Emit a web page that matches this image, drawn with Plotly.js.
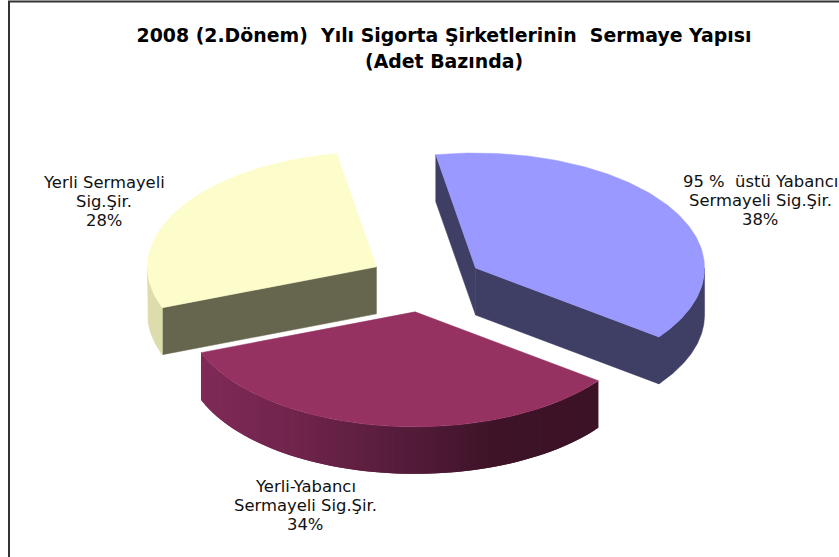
<!DOCTYPE html>
<html>
<head>
<meta charset="utf-8">
<script src="https://cdn.plot.ly/plotly-3.0.1.min.js"></script>
<style>html,body{margin:0;padding:0;background:#fff}#c{width:839px;height:557px}</style>
</head>
<body>
<div id="c"></div>
<script>
// Data
const categories = ["95 %\u00A0\u00A0üstü Yabancı Sermayeli Sig.Şir.", "Yerli-Yabancı Sermayeli Sig.Şir.", "Yerli Sermayeli Sig.Şir."];
const shares = [38, 34, 28];
const labelLines = [
  ["95 %\u00A0\u00A0üstü Yabancı", "Sermayeli Sig.Şir.", "38%"],
  ["Yerli-Yabancı", "Sermayeli Sig.Şir.", "34%"],
  ["Yerli Sermayeli", "Sig.Şir.", "28%"]
];
const titleLines = ["2008 (2.Dönem)\u00A0\u00A0Yılı Sigorta Şirketlerinin\u00A0\u00A0Sermaye Yapısı", "(Adet Bazında)"];

// Styles
const topColors = ["#9999ff", "#963262", "#fdfdcb"];
const edgeColors = ["#3f3f66", "#5a1c3b", "#66664f"];
const rimStops = [
  [[0, [63, 63, 102]], [1, [63, 63, 102]]],
  [[0, [128, 42, 88]], [0.25, [112, 36, 76]], [0.58, [80, 26, 54]], [0.75, [62, 19, 40]], [1, [60, 18, 38]]],
  [[0, [220, 220, 172]], [1, [220, 220, 172]]]
];
const labelAnchors = [[760, 181], [305, 486], [103.5, 182]];
const lineGap = 19;

// Pie projection
const geom = {cx: 426, cy: 282, a: 229, b: 115, depth: 47, explode: 57, first: -10};
const nudges = [[1, 1], [-3, 1.5], [0, -1]];
const rad = d => d * Math.PI / 180;
const total = shares.reduce((s, v) => s + v, 0);

function mix(stops, f) {
  for (let i = 1; i < stops.length; i++) {
    if (f <= stops[i][0]) {
      const k = (f - stops[i - 1][0]) / (stops[i][0] - stops[i - 1][0]);
      const c = stops[i - 1][1].map((v, j) => Math.round(v + (stops[i][1][j] - v) * k));
      return `rgb(${c.join(",")})`;
    }
  }
  return `rgb(${stops[stops.length - 1][1].join(",")})`;
}
function poly(xs, ys, color, lw) {
  return {
    type: "scatter", mode: "lines", x: xs, y: ys, fill: "toself", fillcolor: color,
    line: {color: color, width: lw === undefined ? 0.5 : lw}, hoverinfo: "skip", showlegend: false
  };
}

const traces = [];
const wedges = [];
let acc = geom.first;
shares.forEach((v, i) => {
  const t0 = acc, t1 = acc + v / total * 360;
  acc = t1;
  const mid = rad((t0 + t1) / 2);
  wedges.push({
    i, t0, t1,
    ax: geom.cx + nudges[i][0] + geom.explode * Math.sin(mid),
    ay: geom.cy + nudges[i][1] - geom.explode * Math.cos(mid) * geom.b / geom.a
  });
});

// painter's order: back wedges first, front wedge last
[2, 0, 1].forEach(i => {
  const w = wedges[i];
  const px = t => w.ax + geom.a * Math.sin(rad(t));
  const py = t => w.ay - geom.b * Math.cos(rad(t));
  const edge = t => poly(
    [w.ax, px(t), px(t), w.ax, w.ax],
    [w.ay, py(t), py(t) + geom.depth, w.ay + geom.depth, w.ay],
    edgeColors[i]
  );
  if (Math.sin(rad(w.t0)) < 0) traces.push(edge(w.t0));
  if (Math.sin(rad(w.t1)) > 0) traces.push(edge(w.t1));

  const from = Math.max(w.t0, 90), to = Math.min(w.t1, 270);
  if (to > from) {
    const band = (a, b, color, steps, lw) => {
      const xs = [], ys = [];
      for (let k = 0; k <= steps; k++) { const t = a + (b - a) * k / steps; xs.push(px(t)); ys.push(py(t)); }
      for (let k = steps; k >= 0; k--) { const t = a + (b - a) * k / steps; xs.push(px(t)); ys.push(py(t) + geom.depth); }
      xs.push(xs[0]); ys.push(ys[0]);
      traces.push(poly(xs, ys, color, lw));
    };
    if (i === 1) {
      const n = Math.ceil((to - from) / 1.5);
      const step = (to - from) / n;
      const xMin = Math.min(px(from), px(to)), xMax = Math.max(px(from), px(to));
      // paint strips from the tail of the arc back over each other so no seams remain
      for (let s = n - 1; s >= 0; s--) {
        const a = from + step * s, b = from + step * (s + 1);
        const f = ((px(a) + px(b)) / 2 - xMin) / (xMax - xMin);
        band(Math.max(from, a), Math.min(to, b + step), mix(rimStops[i], Math.min(1, Math.max(0, f))), 4, 0);
      }
    } else {
      band(from, to, mix(rimStops[i], 0.5), 120);
    }
  }

  const xs = [w.ax], ys = [w.ay];
  for (let t = w.t0; t < w.t1; t += 1) { xs.push(px(t)); ys.push(py(t)); }
  xs.push(px(w.t1), w.ax); ys.push(py(w.t1), w.ay);
  const top = poly(xs, ys, topColors[i]);
  top.name = categories[i];
  traces.push(top);
});

const textFont = {family: "DejaVu Sans, Verdana, sans-serif", size: 16.4, color: "#111"};
const titleFont = {family: "DejaVu Sans, Verdana, sans-serif", size: 18.9, color: "#000"};
const annotations = [];
labelLines.forEach((lines, i) => lines.forEach((s, j) => annotations.push({
  xref: "x", yref: "y", x: labelAnchors[i][0], y: labelAnchors[i][1] + j * lineGap,
  text: s, showarrow: false, xanchor: "center", yanchor: "middle", font: textFont
})));
annotations.push({
  xref: "x", yref: "y", x: 444, y: 61, text: "<b>" + titleLines[1] + "</b>",
  showarrow: false, xanchor: "center", yanchor: "middle", font: titleFont
});

const layout = {
  width: 839, height: 557, margin: {l: 0, r: 0, t: 0, b: 0},
  paper_bgcolor: "#fff", plot_bgcolor: "#fff", showlegend: false,
  title: {
    text: "<b>" + titleLines[0] + "</b>",
    font: titleFont,
    x: 444 / 839, xanchor: "center", xref: "paper", y: 1 - 35 / 557, yanchor: "middle", yref: "paper"
  },
  xaxis: {range: [0, 839], visible: false, fixedrange: true},
  yaxis: {range: [557, 0], visible: false, fixedrange: true},
  annotations,
  shapes: [
    {type: "line", xref: "x", yref: "y", x0: 9, x1: 9, y0: 1.5, y1: 557, line: {color: "#333", width: 2}},
    {type: "line", xref: "x", yref: "y", x0: 8, x1: 839, y0: 1.5, y1: 1.5, line: {color: "#333", width: 2}}
  ]
};
Plotly.newPlot("c", traces, layout, {displayModeBar: false, staticPlot: true});
</script>
</body>
</html>
